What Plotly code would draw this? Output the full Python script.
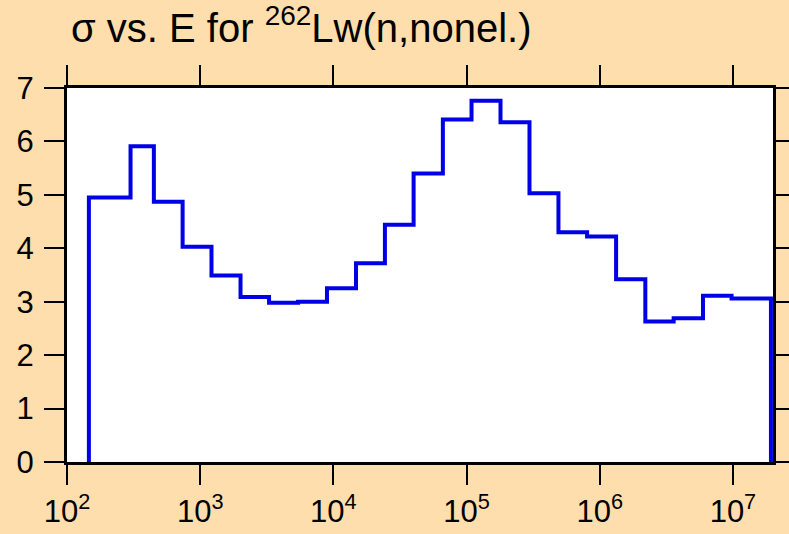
import plotly.graph_objects as go

# Bin edges (energy, eV) and cross-section values (barns)
bin_edges = [146, 300, 449, 738, 1216, 2009, 3289, 5433, 8954, 14790, 24380,
             40040, 66400, 109000, 179900, 296900, 489800, 803500, 1.327e6,
             2.2e6, 3.59e6, 5.96e6, 9.77e6, 1.93e7]
sigma = [4.95, 5.91, 4.87, 4.03, 3.49, 3.09, 2.98, 3.00, 3.25, 3.72, 4.44,
         5.40, 6.41, 6.76, 6.36, 5.03, 4.30, 4.22, 3.42, 2.63, 2.69, 3.11, 3.06]

x_tickvals = [1e2, 1e3, 1e4, 1e5, 1e6, 1e7]
x_ticktext = ["10<sup>2</sup>", "10<sup>3</sup>", "10<sup>4</sup>",
              "10<sup>5</sup>", "10<sup>6</sup>", "10<sup>7</sup>"]
y_tickvals = [0, 1, 2, 3, 4, 5, 6, 7]

# Build step outline from the arrays
xs = [bin_edges[0]]
ys = [0]
for i, v in enumerate(sigma):
    xs += [bin_edges[i], bin_edges[i + 1]]
    ys += [v, v]
xs.append(bin_edges[-1])
ys.append(0)

fig = go.Figure(go.Scatter(x=xs, y=ys, mode="lines",
                           line=dict(color="rgb(0,0,230)", width=4),
                           hoverinfo="skip"))

font_family = "Liberation Sans, Arial, sans-serif"
axis_common = dict(showline=True, linecolor="black", linewidth=3,
                   mirror="ticks", ticks="outside", ticklen=20, tickwidth=2,
                   tickcolor="black", showgrid=False, zeroline=False,
                   automargin=False,
                   tickfont=dict(family=font_family, size=31, color="black"))

fig.update_layout(
    width=789, height=534,
    paper_bgcolor="#FFDEAD", plot_bgcolor="white",
    margin=dict(l=67, r=16, t=88, b=72, autoexpand=False),
    showlegend=False,
    xaxis=dict(type="log", range=[2, 7.301], tickvals=x_tickvals,
               ticktext=x_ticktext, **axis_common),
    yaxis=dict(range=[0, 7], tickvals=y_tickvals, ticklabelstandoff=4,
               **axis_common),
    annotations=[dict(text="σ vs. E for <sup>262</sup>Lw(n,nonel.)",
                      xref="paper", yref="paper", x=0, y=1,
                      xanchor="left", yanchor="bottom", xshift=2, yshift=36,
                      showarrow=False,
                      font=dict(family=font_family, size=40, color="black"))],
)

fig.write_html("out.html", config={"displayModeBar": False},
               post_script="document.body.style.margin='0';"
                           "document.body.style.background='#FFDEAD';")
